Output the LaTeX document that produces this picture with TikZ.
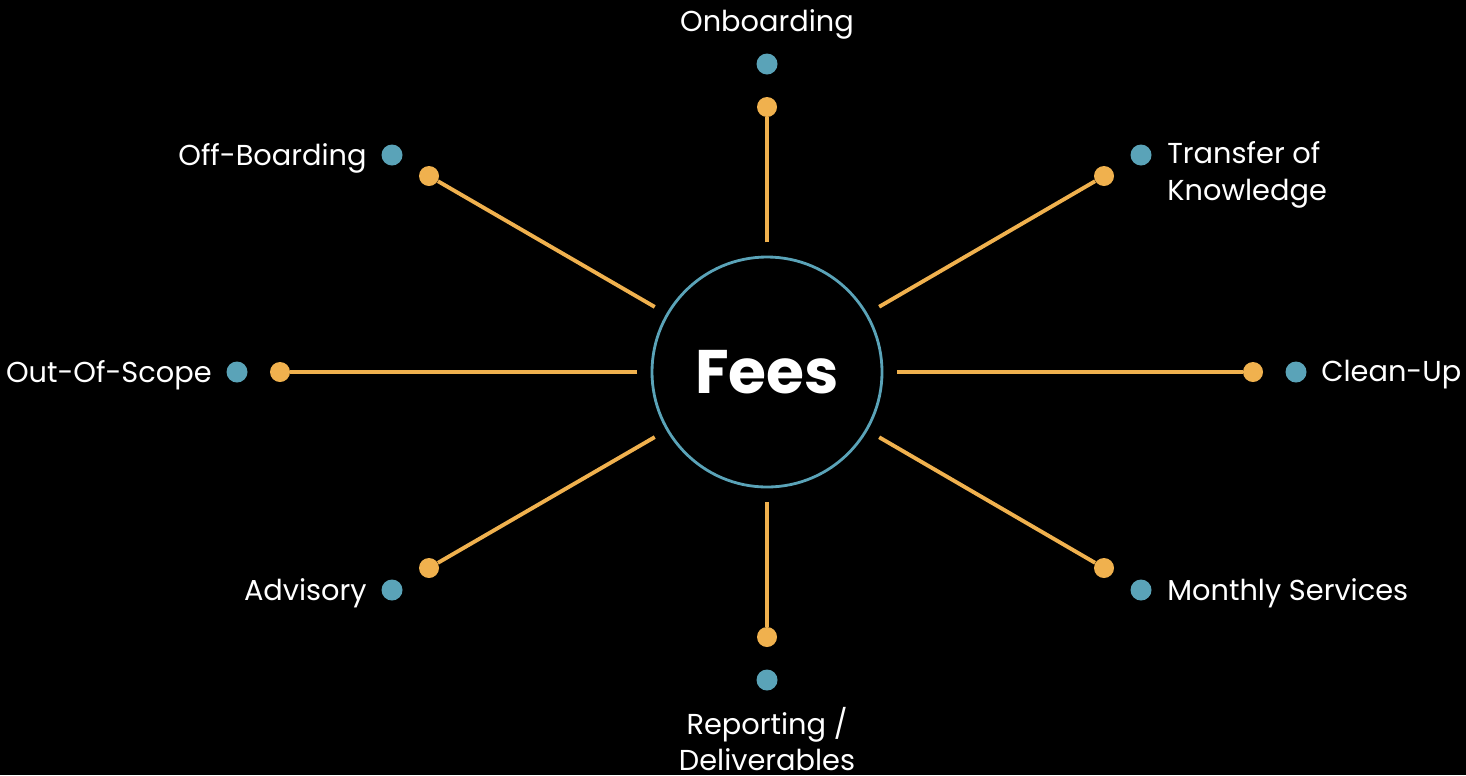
\documentclass[tikz,border=0pt]{standalone}
\usepackage{fontspec}
\setmainfont{Poppins}
\usepackage{xcolor}
\usepackage{tikz}

\definecolor{feeteal}{HTML}{5AA3B8}
\definecolor{feeorange}{HTML}{F0B14E}

\begin{document}
\begin{tikzpicture}[x=0.02cm,y=-0.02cm,
        hub/.style={circle,draw=feeteal,line width=1.6pt,minimum size=230*0.02cm,
                    text=white,font=\bfseries\fontsize{35}{40}\selectfont},
        enddot/.style={circle,fill=feeorange,inner sep=0pt,minimum size=20*0.02cm},
        tagdot/.style={circle,fill=feeteal,inner sep=0pt,minimum size=21*0.02cm},
        spoke/.style={draw=feeorange,line width=2.2pt,shorten <=7.6pt},
        tag/.style={text=white,inner sep=0pt,font=\fontsize{16.4}{20.8}\selectfont}]
    % background
    \fill[black] (0,0) rectangle (1466,775);
    \useasboundingbox (0,0) rectangle (1466,775);

    \node[hub] (fees) at (767,372) {Fees};

    % orange end points of the spokes
    \node[enddot] (e-top)   at (767,107)  {};
    \node[enddot] (e-ur)    at (1104,176) {};
    \node[enddot] (e-right) at (1253,372) {};
    \node[enddot] (e-lr)    at (1104,568) {};
    \node[enddot] (e-bot)   at (767,637)  {};
    \node[enddot] (e-ll)    at (429,568)  {};
    \node[enddot] (e-left)  at (280,372)  {};
    \node[enddot] (e-ul)    at (429,176)  {};

    % spokes
    \draw[spoke] (fees) -- (e-top);
    \draw[spoke] (fees) -- (e-ur);
    \draw[spoke] (fees) -- (e-right);
    \draw[spoke] (fees) -- (e-lr);
    \draw[spoke] (fees) -- (e-bot);
    \draw[spoke] (fees) -- (e-ll);
    \draw[spoke] (fees) -- (e-left);
    \draw[spoke] (fees) -- (e-ul);

    % teal markers
    \node[tagdot] (d-top)   at (767,64)   {};
    \node[tagdot] (d-ur)    at (1141,155) {};
    \node[tagdot] (d-right) at (1296,372) {};
    \node[tagdot] (d-lr)    at (1141,590) {};
    \node[tagdot] (d-bot)   at (767,680)  {};
    \node[tagdot] (d-ll)    at (392,590)  {};
    \node[tagdot] (d-left)  at (237,372)  {};
    \node[tagdot] (d-ul)    at (392,155)  {};

    % labels
    \node[tag] (onboarding) at (767,24) {Onboarding};
    \node[tag,anchor=west,align=left] (transfer) at (1167,175) {Transfer of\\Knowledge};
    \node[tag,anchor=west] (cleanup) at (1321,375) {Clean-Up};
    \node[tag,anchor=west] (monthly) at (1167,593) {Monthly Services};
    \node[tag,align=center] (reporting) at (767,739) {Reporting /\\Deliverables};
    \node[tag,anchor=east] (advisory) at (367,593) {Advisory};
    \node[tag,anchor=east] (outscope) at (212,375) {Out-Of-Scope};
    \node[tag,anchor=east] (offboard) at (367,158) {Off-Boarding};
\end{tikzpicture}
\end{document}
